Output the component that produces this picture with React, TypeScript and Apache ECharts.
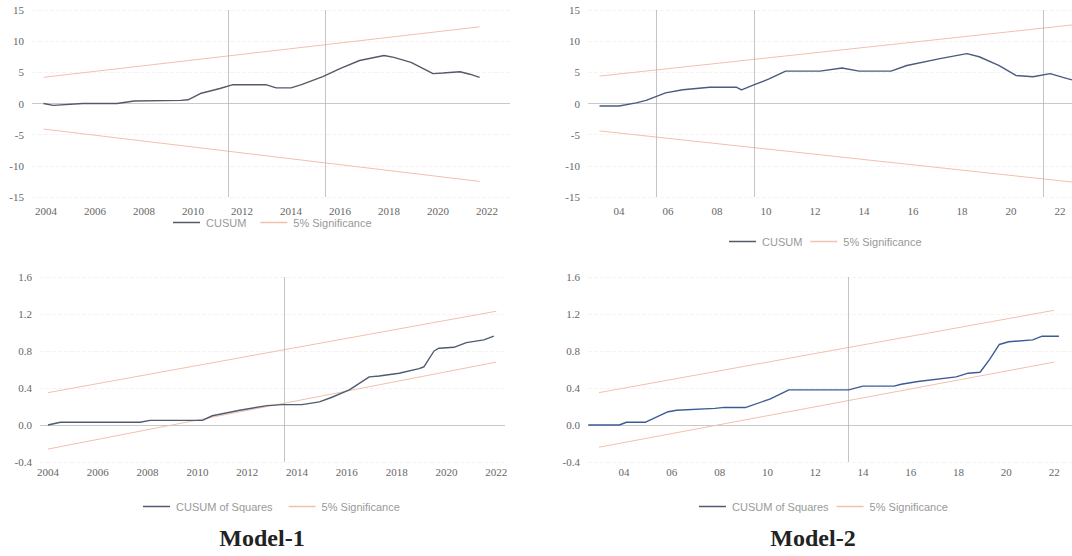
import React, { useEffect, useRef } from "react";
import * as echarts from "echarts";

// ---------- Model-1 CUSUM (top-left) ----------
const tlYears = [2003.9, 2004.3, 2005.5, 2006.9, 2007.6, 2009.5, 2009.8, 2010.3, 2011.1, 2011.6, 2013.0, 2013.4, 2014.0, 2014.4, 2015.3, 2016.0, 2016.8, 2017.8, 2018.2, 2018.9, 2019.8, 2020.2, 2020.9, 2021.3, 2021.7];
const tlCusum = [0, -0.3, 0, 0, 0.4, 0.5, 0.6, 1.6, 2.4, 3.0, 3.0, 2.5, 2.5, 3.0, 4.3, 5.6, 6.9, 7.7, 7.4, 6.6, 4.8, 4.9, 5.1, 4.7, 4.2];
const tlSigYears = [2003.9, 2021.7];
const tlSigUpper = [4.2, 12.3];
const tlSigLower = [-4.1, -12.5];
const tlScanLines = [2011.43, 2015.39];

// ---------- Model-2 CUSUM (top-right) ----------
const trYears = [2003.2, 2004.0, 2004.7, 2005.1, 2005.9, 2006.6, 2007.7, 2008.8, 2009.0, 2009.5, 2010.1, 2010.8, 2012.2, 2013.1, 2013.8, 2015.1, 2015.75, 2017.1, 2018.2, 2018.7, 2019.5, 2020.2, 2020.9, 2021.6, 2022.3, 2022.5];
const trCusum = [-0.4, -0.4, 0.1, 0.5, 1.7, 2.2, 2.6, 2.6, 2.2, 3.0, 3.9, 5.2, 5.2, 5.7, 5.2, 5.2, 6.1, 7.2, 8.0, 7.5, 6.1, 4.5, 4.3, 4.8, 4.0, 3.8];
const trSigYears = [2003.2, 2022.5];
const trSigUpper = [4.4, 12.6];
const trSigLower = [-4.4, -12.6];
const trScanLines = [2005.5, 2009.5, 2021.3];

// ---------- Model-1 CUSUM of Squares (bottom-left) ----------
const blYears = [2004.0, 2004.5, 2007.7, 2008.1, 2010.2, 2010.6, 2011.7, 2012.8, 2013.4, 2014.2, 2014.9, 2015.4, 2016.1, 2016.9, 2017.3, 2018.1, 2018.9, 2019.1, 2019.5, 2019.7, 2020.3, 2020.8, 2021.5, 2021.9];
const blCusumSq = [0, 0.03, 0.03, 0.05, 0.05, 0.1, 0.16, 0.21, 0.22, 0.22, 0.25, 0.3, 0.38, 0.52, 0.53, 0.56, 0.61, 0.63, 0.8, 0.83, 0.84, 0.89, 0.92, 0.96];
const blSigYears = [2004.0, 2022.0];
const blSigUpper = [0.35, 1.23];
const blSigLower = [-0.26, 0.68];
const blScanLines = [2013.5];

// ---------- Model-2 CUSUM of Squares (bottom-right) ----------
const brYears = [2002.5, 2003.8, 2004.1, 2004.9, 2005.8, 2006.2, 2007.8, 2008.2, 2009.1, 2010.1, 2010.9, 2013.4, 2014.0, 2015.3, 2015.6, 2016.3, 2017.9, 2018.4, 2018.9, 2019.3, 2019.7, 2020.1, 2021.1, 2021.5, 2022.2];
const brCusumSq = [0, 0, 0.03, 0.03, 0.14, 0.16, 0.18, 0.19, 0.19, 0.28, 0.38, 0.38, 0.42, 0.42, 0.44, 0.47, 0.52, 0.56, 0.57, 0.71, 0.87, 0.9, 0.92, 0.96, 0.96];
const brSigYears = [2002.95, 2022.0];
const brSigUpper = [0.35, 1.24];
const brSigLower = [-0.24, 0.68];
const brScanLines = [2013.4];

// ---------- Tick labels ----------
const xTickYears = [2004, 2006, 2008, 2010, 2012, 2014, 2016, 2018, 2020, 2022];
const cusumTitle = "CUSUM";
const cusumSqTitle = "CUSUM of Squares";
const sigTitle = "5% Significance";
const modelTitles = ["Model-1", "Model-2"];

const pairs = (xs: number[], ys: number[]) => xs.map((x, i) => [x, ys[i]]);

const SIG_COLOR = "#f1c0ae";
const AXIS_FONT = "Liberation Serif";

function makeX(gridIndex: number, min: number, max: number, short: boolean, margin: number) {
  return {
    type: "value",
    gridIndex,
    min,
    max,
    axisLine: { show: false },
    axisTick: { show: false },
    splitLine: { show: false },
    axisLabel: {
      customValues: xTickYears,
      margin,
      color: "#666",
      fontFamily: AXIS_FONT,
      fontSize: 11,
      formatter: (v: number) => (short ? String(Math.round(v)).slice(2) : String(Math.round(v))),
    },
  };
}

function makeY(gridIndex: number, min: number, max: number, interval: number, digits: number) {
  return {
    type: "value",
    gridIndex,
    min,
    max,
    interval,
    axisLine: { show: false },
    axisTick: { show: false },
    splitLine: { show: true, lineStyle: { color: "#f4f4f4", type: "dashed" } },
    axisLabel: {
      margin: 8,
      color: "#666",
      fontFamily: AXIS_FONT,
      fontSize: 11,
      formatter: (v: number) => v.toFixed(digits),
    },
  };
}

function makeSeries(
  idx: number,
  name: string,
  color: string,
  years: number[],
  vals: number[],
  sigYears: number[],
  up: number[],
  lo: number[],
  scan: number[]
) {
  return [
    {
      type: "line",
      name,
      xAxisIndex: idx,
      yAxisIndex: idx,
      data: pairs(years, vals),
      symbol: "none",
      lineStyle: { color, width: 1.4 },
      itemStyle: { color },
      z: 5,
      markLine: {
        silent: true,
        symbol: ["none", "none"],
        label: { show: false },
        data: [
          { yAxis: 0, lineStyle: { color: "#c9c9c9", width: 1, type: "solid" } },
          ...scan.map((x) => ({ xAxis: x, lineStyle: { color: "#b5b5b5", width: 0.8, type: "solid" } })),
        ],
      },
    },
    {
      type: "line",
      name: sigTitle,
      xAxisIndex: idx,
      yAxisIndex: idx,
      data: pairs(sigYears, up),
      symbol: "none",
      lineStyle: { color: SIG_COLOR, width: 1 },
      itemStyle: { color: SIG_COLOR },
    },
    {
      type: "line",
      name: sigTitle,
      xAxisIndex: idx,
      yAxisIndex: idx,
      data: pairs(sigYears, lo),
      symbol: "none",
      lineStyle: { color: SIG_COLOR, width: 1 },
      itemStyle: { color: SIG_COLOR },
    },
  ];
}

function makeLegend(names: string[], left: number, top: number, gap: number) {
  return {
    data: names.map((n) => ({ name: n, icon: "rect" })),
    left,
    top,
    itemWidth: 27,
    itemHeight: 1.5,
    itemGap: gap,
    selectedMode: false,
    textStyle: { color: "#999", fontSize: 11, fontFamily: "Liberation Sans", padding: [0, 0, 0, 1] },
  };
}

export default function App() {
  const ref = useRef<HTMLDivElement>(null);
  useEffect(() => {
    const chart = echarts.init(ref.current!, null, { renderer: "svg" });
    const option = {
      animation: false,
      backgroundColor: "#fff",
      grid: [
        { left: 32, top: 10, width: 478, height: 187 },
        { left: 588, top: 10, width: 507, height: 187 },
        { left: 40, top: 277, width: 465, height: 185 },
        { left: 588, top: 277, width: 507, height: 185 },
      ],
      xAxis: [
        makeX(0, 2003.43, 2022.94, false, 8),
        makeX(1, 2002.73, 2023.43, true, 8),
        makeX(2, 2003.68, 2022.35, false, 4),
        makeX(3, 2002.49, 2023.71, true, 4),
      ],
      yAxis: [
        makeY(0, -15, 15, 5, 0),
        makeY(1, -15, 15, 5, 0),
        makeY(2, -0.4, 1.6, 0.4, 1),
        makeY(3, -0.4, 1.6, 0.4, 1),
      ],
      legend: [
        makeLegend([cusumTitle, sigTitle], 168, 212, 14),
        makeLegend([cusumTitle, sigTitle], 724, 231, 8),
        makeLegend([cusumSqTitle, sigTitle], 138, 496, 16),
        makeLegend([cusumSqTitle, sigTitle], 694, 496, 8),
      ],
      series: [
        ...makeSeries(0, cusumTitle, "#555b66", tlYears, tlCusum, tlSigYears, tlSigUpper, tlSigLower, tlScanLines),
        ...makeSeries(1, cusumTitle, "#4a5c7c", trYears, trCusum, trSigYears, trSigUpper, trSigLower, trScanLines),
        ...makeSeries(2, cusumSqTitle, "#505a70", blYears, blCusumSq, blSigYears, blSigUpper, blSigLower, blScanLines),
        ...makeSeries(3, cusumSqTitle, "#3d5c94", brYears, brCusumSq, brSigYears, brSigUpper, brSigLower, brScanLines),
      ],
      graphic: [
        {
          type: "text",
          x: 262,
          y: 538,
          style: {
            text: modelTitles[0],
            fill: "#222",
            font: "bold 24px 'Liberation Serif'",
            textAlign: "center",
            textVerticalAlign: "middle",
          },
        },
        {
          type: "text",
          x: 813,
          y: 538,
          style: {
            text: modelTitles[1],
            fill: "#222",
            font: "bold 24px 'Liberation Serif'",
            textAlign: "center",
            textVerticalAlign: "middle",
          },
        },
      ],
    };
    chart.setOption(option as any);
    return () => chart.dispose();
  }, []);
  return (
    <div
      ref={ref}
      style={{ position: "fixed", left: 0, top: 0, width: 1100, height: 556, background: "#fff" }}
    />
  );
}
